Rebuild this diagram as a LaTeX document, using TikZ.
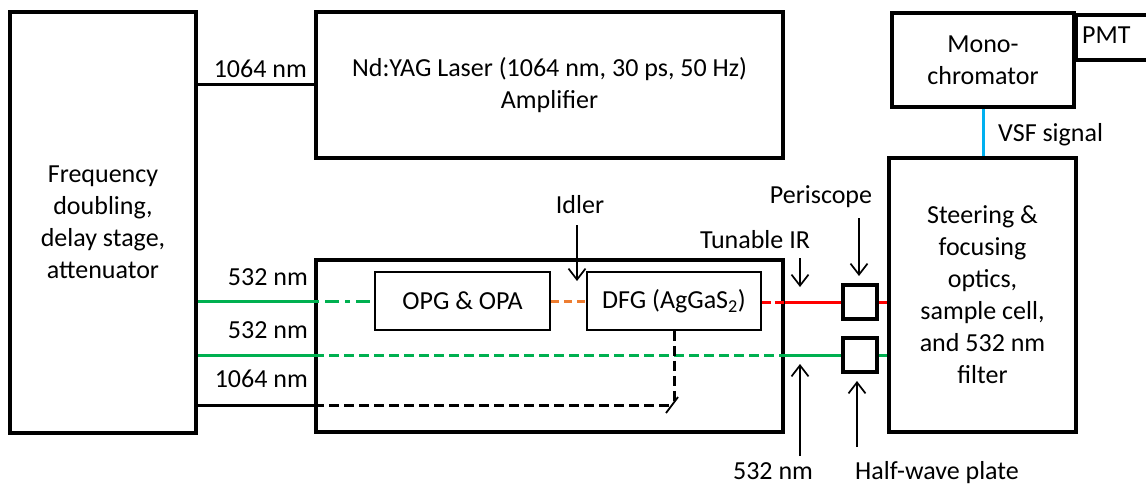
\documentclass[tikz,border=0pt]{standalone}
\usepackage{fontspec}
\setmainfont{Carlito}
\usetikzlibrary{arrows.meta}
\definecolor{beamgreen}{HTML}{00B050}
\definecolor{beamred}{HTML}{FF0000}
\definecolor{beamorange}{HTML}{ED7D31}
\definecolor{sigblue}{HTML}{00B0F0}
\begin{document}
\begin{tikzpicture}[x=1pt,y=-1pt,
  font=\fontsize{26}{32}\selectfont,
  bigbox/.style={draw, line width=3.6pt, inner sep=0pt, align=center},
  smallbox/.style={draw, line width=1.7pt, inner sep=0pt, align=center, minimum height=58pt},
  plate/.style={draw, line width=3.6pt, inner sep=0pt, minimum width=34pt, minimum height=34pt},
  beam/.style={line width=3pt},
  dsh/.style={dash pattern=on 10pt off 5pt},
  dshdot/.style={dash pattern=on 5pt off 6pt on 14pt off 6pt},
  arr/.style={line width=1.7pt, -{Straight Barb[length=11pt,width=17pt,line width=1.7pt]}},
  lbl/.style={inner sep=0pt}]
\useasboundingbox (0,0) rectangle (1146,484);

% boxes
\node[bigbox, minimum width=186pt, minimum height=421pt] (freq) at (103,222.5) {Frequency\\doubling,\\delay stage,\\attenuator};
\node[bigbox, minimum width=467pt, minimum height=146pt] (laser) at (549.5,85) {Nd:YAG Laser (1064 nm, 30 ps, 50 Hz)\\Amplifier};
\node[bigbox, minimum width=467pt, minimum height=172pt] (mid) at (549.5,346) {};
\node[bigbox, minimum width=187pt, minimum height=274pt] (steer) at (982.5,295) {Steering \&\\focusing\\optics,\\sample cell,\\and 532 nm\\filter};
\node[bigbox, minimum width=182pt, minimum height=94pt] (mono) at (983,60) {Mono-\\chromator};
\node[bigbox, minimum width=90pt, minimum height=45pt, anchor=north west] (pmt) at (1074,13) {};
\node[lbl, anchor=base west] (pmtlbl) at (1082,44) {PMT};

\node[smallbox, minimum width=175pt] (opg) at (462.5,301) {OPG \& OPA};
\node[smallbox, minimum width=174pt] (dfg) at (674,301) {DFG (AgGaS\textsubscript{2})};
\node[plate] (peri) at (860,302) {};
\node[plate] (hwp) at (860,355) {};

% top 1064 nm
\draw[beam] (laser.west) -- (laser.west -| freq.east);
\node[lbl, anchor=base east] (l1064a) at (307,78) {1064 nm};

% first 532 nm (to OPG)
\coordinate (g1) at (mid.west |- opg.west);
\draw[beam, beamgreen] (freq.east |- g1) -- (g1);
\draw[beam, beamgreen, dshdot] (g1) -- (opg.west);
\node[lbl, anchor=base east] (l532a) at (308,285) {532 nm};

% idler
\draw[beam, beamorange, dash pattern=on 8pt off 5pt] (opg.east) -- (dfg.west);

% tunable IR
\coordinate (r0) at (dfg.east |- peri.west);
\coordinate (r1) at (mid.east |- peri.west);
\draw[beam, beamred, dash pattern=on 9pt off 4pt] (r0) -- (r1);
\draw[beam, beamred] (r1) -- (peri.west);
\draw[beam, beamred] (peri.east) -- (peri.east -| steer.west);

% second 532 nm
\coordinate (g2a) at (mid.west |- hwp.west);
\coordinate (g2b) at (mid.east |- hwp.west);
\draw[beam, beamgreen] (freq.east |- g2a) -- (g2a);
\draw[beam, beamgreen, dsh] (g2a) -- (g2b);
\draw[beam, beamgreen] (g2b) -- (hwp.west);
\draw[beam, beamgreen] (hwp.east) -- (hwp.east -| steer.west);
\node[lbl, anchor=base east] (l532b) at (308,338) {532 nm};

% 1064 nm into box, to mirror
\coordinate (mir) at (674,405);
\coordinate (b1) at (mid.west |- mir);
\draw[beam] (freq.east |- b1) -- (b1);
\draw[beam, dsh] (b1) -- (mir);
\draw[beam, dsh] (dfg.south) -- (mir);
\draw[line width=1.8pt] (mir) ++(-8,8) -- ++(12,-16);
\node[lbl, anchor=base east] (l1064b) at (308,387) {1064 nm};

% VSF signal
\draw[beam, sigblue] (mono.south) -- (mono.south |- steer.north);
\node[lbl, anchor=base west] (vsf) at (998,142) {VSF signal};

% annotations
\node[lbl, anchor=base] (idler) at (580,213) {Idler};
\coordinate (ida) at (577,225);
\coordinate (idb) at (577,281);
\draw[arr] (ida) -- (idb);

\node[lbl, anchor=base] (tir) at (755,248) {Tunable IR};
\coordinate (ta) at (800,258);
\coordinate (tb) at (800,287);
\draw[arr] (ta) -- (tb);

\node[lbl, anchor=base] (perilbl) at (821,203) {Periscope};
\coordinate (pa) at (859,218);
\coordinate (pb) at (859,276);
\draw[arr] (pa) -- (pb);

\node[lbl, anchor=base] (l532c) at (773,479) {532 nm};
\coordinate (ga) at (800,456);
\coordinate (gb) at (800,364);
\draw[arr] (ga) -- (gb);

\node[lbl, anchor=base] (hwplbl) at (937,479) {Half-wave plate};
\coordinate (ha) at (857,447);
\coordinate (hb) at (857,381);
\draw[arr] (ha) -- (hb);
\end{tikzpicture}
\end{document}
